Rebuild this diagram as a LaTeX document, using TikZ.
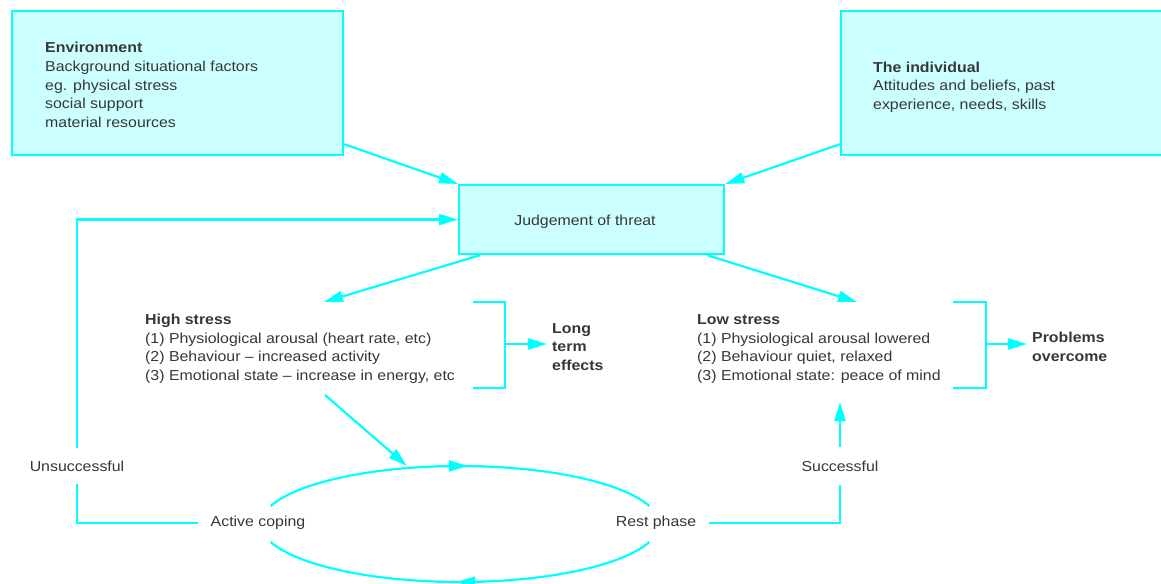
\documentclass[tikz,border=0pt]{standalone}
\usepackage{fontspec}
\setmainfont{Liberation Sans}[FakeStretch=1.1]
\usetikzlibrary{arrows.meta,decorations.markings,calc}
\definecolor{cy}{RGB}{0,255,255}
\definecolor{cyfill}{RGB}{204,255,255}
\definecolor{txt}{RGB}{55,55,55}
\begin{document}
\begin{tikzpicture}[x=1bp,y=-1bp,
  line/.style={draw=cy, color=cy, line width=2.2bp},
  arr/.style={line, -{Triangle[length=19bp,width=11bp]}},
  box/.style={line, fill=cyfill, inner sep=0, anchor=north west},
  txtblock/.style={anchor=base west, align=left, inner sep=0, text=txt, font=\fontsize{14.5}{18.8}\selectfont},
  boldblock/.style={txtblock, font=\fontsize{14.5}{18.6}\selectfont\bfseries},
  lbl/.style={text=txt, font=\fontsize{14.5}{17}\selectfont, inner sep=0},
  ringarrow/.style={postaction=decorate, decoration={markings, mark=at position #1 with {\arrow{Triangle[length=19bp,width=11bp]}}}},
]
\useasboundingbox (0,0) rectangle (1161,584);
\fill[white] (0,0) rectangle (1161,584);

% boxes
\node[box, minimum width=331bp, minimum height=144bp] (env) at (11,10) {};
\node[box, minimum width=330bp, minimum height=144bp] (ind) at (840,10) {};
\node[box, minimum width=265bp, minimum height=69bp] (jt) at (458,184) {};

% texts (anchor = baseline of the last line)
\node[txtblock] (envtxt) at (45,127.5) {\textbf{Environment}\\Background situational factors\\eg. physical stress\\social support\\material resources};
\node[txtblock] (indtxt) at (873,109.5) {\textbf{The individual}\\Attitudes and beliefs, past\\experience, needs, skills};
\node[lbl] (jtt) at (585,222) {Judgement of threat};
\node[txtblock] (hs) at (145,380.5) {\textbf{High stress}\\(1) Physiological arousal (heart rate, etc)\\(2) Behaviour -- increased activity\\(3) Emotional state -- increase in energy, etc};
\node[txtblock] (ls) at (697,380.5) {\textbf{Low stress}\\(1) Physiological arousal lowered\\(2) Behaviour quiet, relaxed\\(3) Emotional state: peace of mind};
\node[boldblock] (lte) at (552,370.5) {Long\\term\\effects};
\node[boldblock] (po) at (1032,361) {Problems\\overcome};

\node[lbl, minimum height=35bp] (uns) at (77,466) {Unsuccessful};
\node[lbl, minimum height=37bp] (suc) at (840,466) {Successful};
\node[lbl, inner xsep=13bp] (act) at (258,523) {Active coping};
\node[lbl, inner xsep=13bp] (rest) at (656,523) {Rest phase};

% coordinates
\coordinate (hsin) at (324,302);
\coordinate (lsin) at (857,302);
\coordinate (hb1) at (473,302);
\coordinate (hb2) at (473,388);
\coordinate (hbm) at (505,344);
\coordinate (hbt) at (547,344);
\coordinate (lb1) at (953,302);
\coordinate (lb2) at (953,388);
\coordinate (lbm) at (986,344);
\coordinate (lbt) at (1027,344);
\coordinate (hsout) at (325,395);
\coordinate (etop) at (407,466);
\coordinate (lsout) at (840,402);

% connectors
\draw[arr] ($(env.south east)+(0,-12)$) -- (jt.north west);
\draw[arr] ($(ind.south west)+(0,-12)$) -- (jt.north east);
\draw[line] (act.west) -| (uns.south);
\draw[arr] (uns.north) |- (jt.west);
\draw[arr] ($(jt.south west)+(22,0)$) -- (hsin);
\draw[arr] ($(jt.south east)+(-18,0)$) -- (lsin);

\draw[line] (hb1) -- (hb1 -| hbm) |- (hb2);
\draw[arr] (hbm) -- (hbt);
\draw[line] (lb1) -- (lb1 -| lbm) |- (lb2);
\draw[arr] (lbm) -- (lbt);

\draw[arr] (hsout) -- (etop);
\draw[line] (rest.east) -| (suc.south);
\draw[arr] (suc.north) -- (lsout);

% coping cycle
\draw[line, ringarrow=0.52] plot[domain=198:342, samples=80] ({460+199*cos(\x)}, {524+58*sin(\x)});
\draw[line, ringarrow=0.51] plot[domain=18:162, samples=80] ({460+199*cos(\x)}, {524+58*sin(\x)});
\end{tikzpicture}
\end{document}
